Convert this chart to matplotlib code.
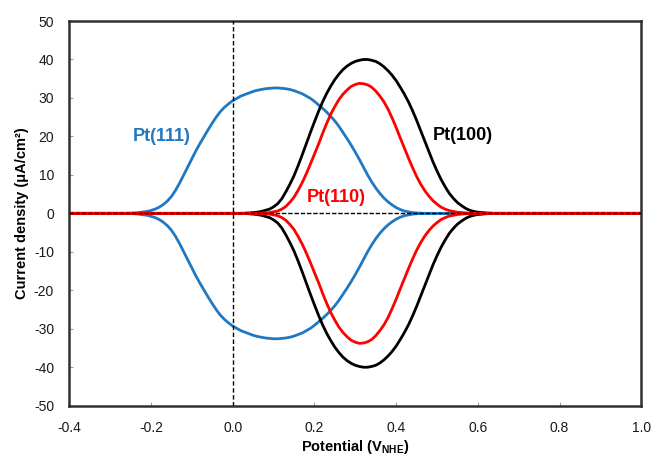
import numpy as np
import matplotlib
matplotlib.use("Agg")
import matplotlib.pyplot as plt
from matplotlib.ticker import MultipleLocator, FormatStrFormatter

plt.rcParams['font.family'] = ['Liberation Sans', 'DejaVu Sans']
plt.rcParams['mathtext.fontset'] = 'custom'
plt.rcParams['mathtext.rm'] = 'Liberation Sans'
plt.rcParams['mathtext.bf'] = 'Liberation Sans:bold'
plt.rcParams['axes.unicode_minus'] = False

# anodic branch of each voltammogram, potential in V vs NHE, current in uA/cm2
pt111_v = [-0.40, -0.26, -0.25, -0.24, -0.23, -0.22, -0.21, -0.20, -0.19, -0.18,
           -0.17, -0.16, -0.15, -0.14, -0.13, -0.12, -0.11, -0.10, -0.09, -0.08,
           -0.07, -0.06, -0.05, -0.04, -0.03, -0.02, -0.01, 0.00, 0.01, 0.02,
           0.03, 0.04, 0.05, 0.06, 0.07, 0.08, 0.09, 0.10, 0.11, 0.12,
           0.13, 0.14, 0.15, 0.16, 0.17, 0.18, 0.19, 0.20, 0.21, 0.22,
           0.23, 0.24, 0.25, 0.26, 0.27, 0.28, 0.29, 0.30, 0.31, 0.32,
           0.33, 0.34, 0.35, 0.36, 0.37, 0.38, 0.39, 0.40, 0.41, 0.42,
           0.43, 0.44, 0.45, 0.46, 0.47, 1.00]
pt111_j = [0.0, 0.0, 0.05, 0.1, 0.2, 0.35, 0.5, 0.75, 1.1, 1.6,
           2.3, 3.2, 4.4, 6.0, 7.9, 10.0, 12.1, 14.2, 16.3, 18.2,
           20.0, 21.8, 23.5, 25.1, 26.5, 27.6, 28.5, 29.3, 29.9, 30.5,
           30.9, 31.3, 31.7, 32.0, 32.2, 32.4, 32.5, 32.6, 32.6, 32.5,
           32.4, 32.2, 31.9, 31.5, 31.1, 30.5, 29.9, 29.1, 28.2, 27.3,
           26.3, 25.2, 24.0, 22.6, 21.0, 19.4, 17.7, 15.9, 14.0, 12.0,
           10.0, 8.2, 6.6, 5.2, 4.0, 3.0, 2.2, 1.5, 1.0, 0.6,
           0.4, 0.2, 0.1, 0.05, 0.0, 0.0]

pt100_v = [-0.40, 0.02, 0.03, 0.04, 0.05, 0.06, 0.07, 0.08, 0.09, 0.10,
           0.11, 0.12, 0.13, 0.14, 0.15, 0.16, 0.17, 0.18, 0.19, 0.20,
           0.21, 0.22, 0.23, 0.24, 0.25, 0.26, 0.27, 0.28, 0.29, 0.30,
           0.31, 0.32, 0.33, 0.34, 0.35, 0.36, 0.37, 0.38, 0.39, 0.40,
           0.41, 0.42, 0.43, 0.44, 0.45, 0.46, 0.47, 0.48, 0.49, 0.50,
           0.51, 0.52, 0.53, 0.54, 0.55, 0.56, 0.57, 0.58, 0.59, 0.60,
           0.61, 0.62, 0.63, 0.64, 1.00]
pt100_j = [0.0, 0.0, 0.05, 0.1, 0.2, 0.3, 0.5, 0.8, 1.1, 1.7,
           2.5, 3.8, 5.6, 7.6, 9.8, 12.4, 15.2, 18.1, 21.0, 23.8,
           26.5, 29.0, 31.2, 33.1, 34.8, 36.2, 37.4, 38.3, 39.0, 39.5,
           39.8, 40.0, 40.0, 39.8, 39.5, 38.9, 38.1, 37.1, 35.9, 34.5,
           32.8, 31.0, 29.0, 26.7, 24.2, 21.5, 18.8, 16.1, 13.4, 11.0,
           8.8, 6.9, 5.2, 3.9, 2.8, 2.0, 1.3, 0.8, 0.5, 0.3,
           0.2, 0.1, 0.05, 0.0, 0.0]

pt110_v = [-0.40, 0.06, 0.07, 0.08, 0.09, 0.10, 0.11, 0.12, 0.13, 0.14,
           0.15, 0.16, 0.17, 0.18, 0.19, 0.20, 0.21, 0.22, 0.23, 0.24,
           0.25, 0.26, 0.27, 0.28, 0.29, 0.30, 0.31, 0.32, 0.33, 0.34,
           0.35, 0.36, 0.37, 0.38, 0.39, 0.40, 0.41, 0.42, 0.43, 0.44,
           0.45, 0.46, 0.47, 0.48, 0.49, 0.50, 0.51, 0.52, 0.53, 0.54,
           0.55, 0.56, 0.57, 0.58, 0.59, 1.00]
pt110_j = [0.0, 0.0, 0.05, 0.1, 0.2, 0.4, 0.6, 1.1, 1.8, 2.9,
           4.2, 6.0, 8.0, 10.3, 12.8, 15.4, 18.0, 20.8, 23.4, 25.8,
           27.8, 29.6, 31.0, 32.1, 33.0, 33.5, 33.8, 33.7, 33.4, 32.8,
           31.8, 30.5, 29.0, 27.1, 24.8, 22.3, 19.6, 17.0, 14.4, 11.9,
           9.6, 7.6, 5.9, 4.5, 3.3, 2.4, 1.6, 1.1, 0.7, 0.5,
           0.3, 0.2, 0.1, 0.05, 0.0, 0.0]

series = [
    ("Pt(111)", pt111_v, pt111_j, "#1F78C1", (-0.174, 20.1)),
    ("Pt(100)", pt100_v, pt100_j, "black", (0.564, 20.3)),
    ("Pt(110)", pt110_v, pt110_j, "#FF0000", (0.254, 4.1)),
]

fig = plt.figure(figsize=(6.54, 4.58), dpi=100)
ax = fig.add_axes([0.106, 0.1142, 0.8746, 0.8399])

for name, v, j, col, pos in series:
    v = np.array(v)
    j = np.array(j)
    # cathodic sweep mirrors the anodic one
    ax.plot(v, j, color=col, lw=2.0, solid_joinstyle='round')
    ax.plot(v, -j, color=col, lw=2.0, solid_joinstyle='round')
    ax.text(pos[0], pos[1], name, color=col, fontsize=13, fontweight='bold',
            ha='center', va='center')

ax.axvline(0, color='black', lw=1.0, ls=(0, (3.2, 1.8)), zorder=5)
ax.axhline(0, color='black', lw=1.0, ls=(0, (3.2, 1.3)), zorder=5)

ax.set_xlim(-0.4, 1.0)
ax.set_ylim(-50, 50)
ax.xaxis.set_major_locator(MultipleLocator(0.2))
ax.xaxis.set_major_formatter(FormatStrFormatter('%.1f'))
ax.yaxis.set_major_locator(MultipleLocator(10))

for sp in ax.spines.values():
    sp.set_linewidth(1.8)
    sp.set_color('#303030')
ax.tick_params(direction='in', length=3, width=0.8, color='#a0a0a0',
               labelsize=10, labelcolor='#1a1a1a', pad=11)

ax.set_xlabel(r'Potential (V$_{\mathbf{NHE}}$)', fontsize=10.5, fontweight='bold')
ax.set_ylabel('Current density (μA/cm²)', fontsize=10.5, fontweight='bold')
ax.xaxis.set_label_coords(0.5, -0.085)
ax.yaxis.set_label_coords(-0.07, 0.5)

fig.savefig('out.png', dpi=100)
